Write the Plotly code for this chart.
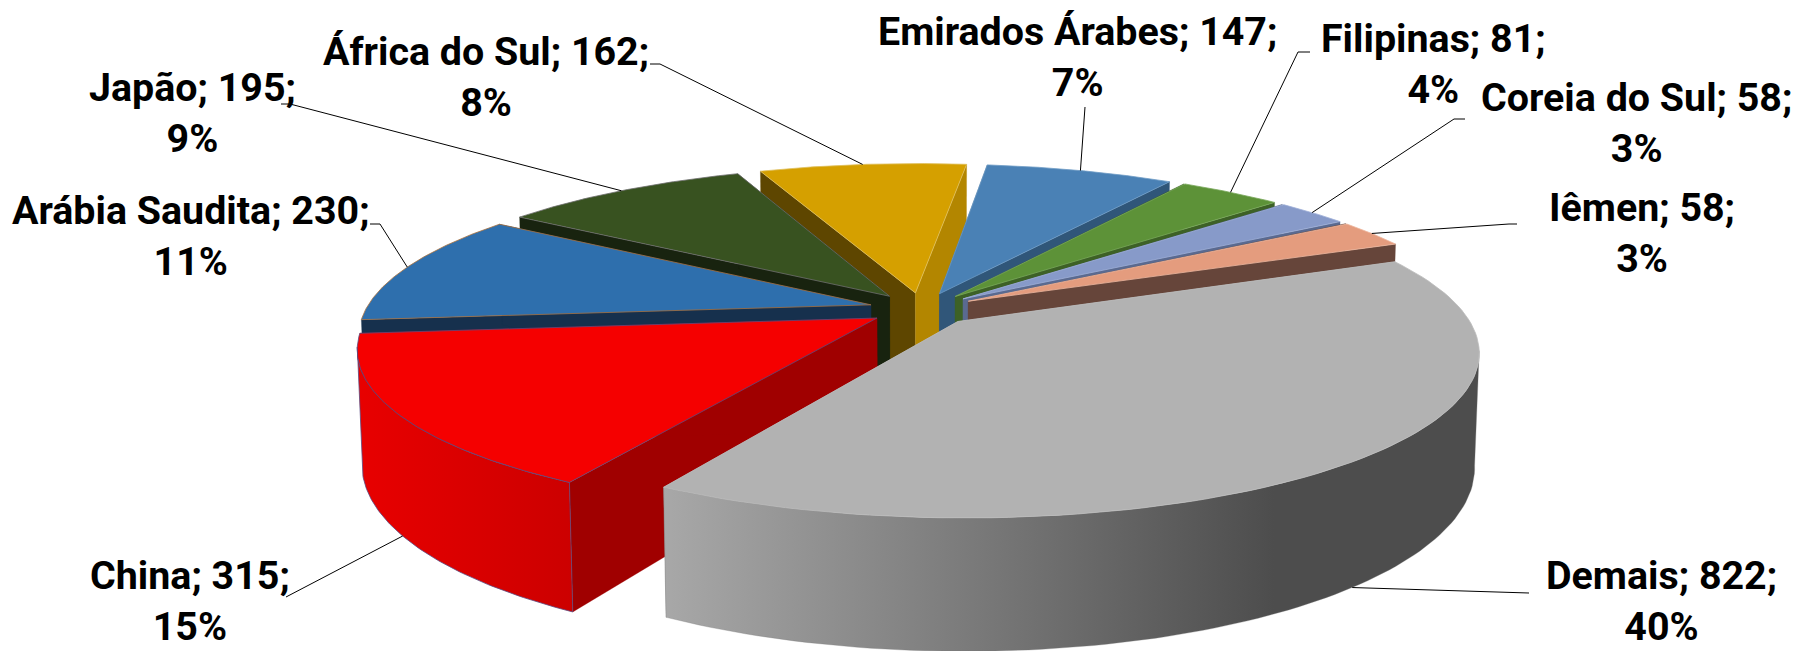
import math
import numpy as np
import plotly.graph_objects as go

# ---------- data ----------
categories = ["Demais", "China", "Arábia Saudita", "Japão", "África do Sul",
              "Emirados Árabes", "Filipinas", "Coreia do Sul", "Iêmen"]
values = [822, 315, 230, 195, 162, 147, 81, 58, 58]
percents = [40, 15, 11, 9, 8, 7, 4, 3, 3]

# ---------- style ----------
top_colors = ["#b2b2b2", "#f50000", "#2e6fad", "#385220", "#d5a000",
              "#4a81b5", "#5d9238", "#879ac9", "#e49c7e"]
start_wall = ["#9a9a9a", "#a00000", "#16304d", "#18230f", "#5e4600",
              "#305679", "#3d6126", "#5a6a90", "#66453a"]
end_wall = ["#9a9a9a", "#a00000", "#16304d", "#18230f", "#b38600",
            "#305679", "#3d6126", "#5a6a90", "#66453a"]
edge_colors = ["#bdbdbd", "#5a4a80", "#a8703c", "#6e6e6e", "#e0c060",
               "#6f9cc5", "#7aa85c", "#a0b0d8", "#eeb8a0"]
paint_order = [4, 3, 5, 6, 7, 8, 2, 1, 0]

START_ANGLE = 66.7
EXPLODE = 0.105
CX, CY = 922.0, 309.0
AX, BY, HZ = 505.0, 157.2, 111.0
PERSP, PERSP_Z = 0.175, 0.008
TANGENT = (100.1, 259.9)

label_x = [1661, 190, 191, 192, 486, 1077, 1433, 1636, 1642]
label_y = [601, 601, 236, 113, 77, 57, 64, 123, 233]
elbows = [
    [(1529, 593)],
    [(286, 597)],
    [(370, 224), (380, 224)],
    [(281, 104), (290, 104)],
    [(650, 64), (660, 64)],
    [(1085, 107)],
    [(1310, 52), (1298, 52)],
    [(1465, 119), (1454, 119)],
    [(1517, 224), (1509, 224)],
]
FONT_SIZE = 39.4

total = sum(values)
fig = go.Figure()


def project(th, r, off, z=0.0):
    """th: degrees clockwise from the back of the disc; off: explosion vector."""
    u = r * math.sin(math.radians(th)) + off[0]
    v = r * math.cos(math.radians(th)) + off[1]
    w = 1 + PERSP * v + PERSP_Z * z
    return CX + AX * u / w, CY - BY * v / w + HZ * z / w


def poly(points, color, edge=None, gradient=None):
    xs = [p[0] for p in points] + [points[0][0]]
    ys = [p[1] for p in points] + [points[0][1]]
    kw = {}
    if gradient is not None:
        kw["fillgradient"] = dict(type="horizontal", colorscale=gradient)
    else:
        kw["fillcolor"] = color
    fig.add_trace(go.Scatter(
        x=xs, y=ys, mode="lines", fill="toself",
        line=dict(color=edge or color, width=0.8 if edge else 0.3),
        hoverinfo="skip", showlegend=False, **kw))


# slice angles from the values
spans = [v / total * 360 for v in values]
starts = list(START_ANGLE + np.cumsum([0] + spans[:-1]))
ends = [s + d for s, d in zip(starts, spans)]
mids = [(s + e) / 2 for s, e in zip(starts, ends)]
offsets = [(EXPLODE * math.sin(math.radians(m)), EXPLODE * math.cos(math.radians(m))) for m in mids]

for i in paint_order:
    s, e, off = starts[i], ends[i], offsets[i]
    apex, apex_b = project(0, 0, off), project(0, 0, off, 1)
    # radial walls
    poly([apex, project(s, 1, off), project(s, 1, off, 1), apex_b], start_wall[i])
    poly([apex, project(e, 1, off), project(e, 1, off, 1), apex_b], end_wall[i])
    # outer wall, only the part that faces the viewer
    a, b = max(s, TANGENT[0]), min(e, TANGENT[1])
    if a < b:
        ths = np.linspace(a, b, 90)
        wall = [project(t, 1, off) for t in ths] + [project(t, 1, off, 1) for t in ths[::-1]]
        if i == 0:
            x0 = min(p[0] for p in wall)
            x1 = max(p[0] for p in wall)
            stop = (1274 - x0) / (x1 - x0)
            poly(wall, "#777777", gradient=[[0, "#a8a8a8"], [stop, "#4d4d4d"], [1, "#4d4d4d"]])
        else:
            poly(wall, "#d80000", edge="#5a4a80",
                 gradient=[[0, "#e80000"], [1, "#cc0000"]])
    # top face
    ths = np.linspace(s, e, 90)
    poly([apex] + [project(t, 1, off) for t in ths], top_colors[i], edge=edge_colors[i])

# leader lines
front = {0, 1}
for i, pts in enumerate(elbows):
    anchor = project(mids[i], 1, offsets[i], 1 if i in front else 0)
    line = pts + [anchor]
    fig.add_trace(go.Scatter(
        x=[p[0] for p in line], y=[p[1] for p in line], mode="lines",
        line=dict(color="#000000", width=1), hoverinfo="skip", showlegend=False))

# labels
for i, name in enumerate(categories):
    fig.add_annotation(
        x=label_x[i], y=label_y[i], xref="x", yref="y",
        text=f"{name}; {values[i]};<br>{percents[i]}%",
        showarrow=False, xanchor="center", yanchor="middle", align="center",
        font=dict(family="Roboto", size=FONT_SIZE, color="#000000", weight=700))

fig.update_layout(
    width=1796, height=651,
    margin=dict(l=0, r=0, t=0, b=0),
    paper_bgcolor="#ffffff", plot_bgcolor="#ffffff",
    xaxis=dict(range=[0, 1796], visible=False, fixedrange=True),
    yaxis=dict(range=[651, 0], visible=False, fixedrange=True),
)
fig.write_html(
    "out.html",
    config={"displayModeBar": False},
    post_script="document.body.style.margin='0';document.body.style.overflow='hidden';",
)
